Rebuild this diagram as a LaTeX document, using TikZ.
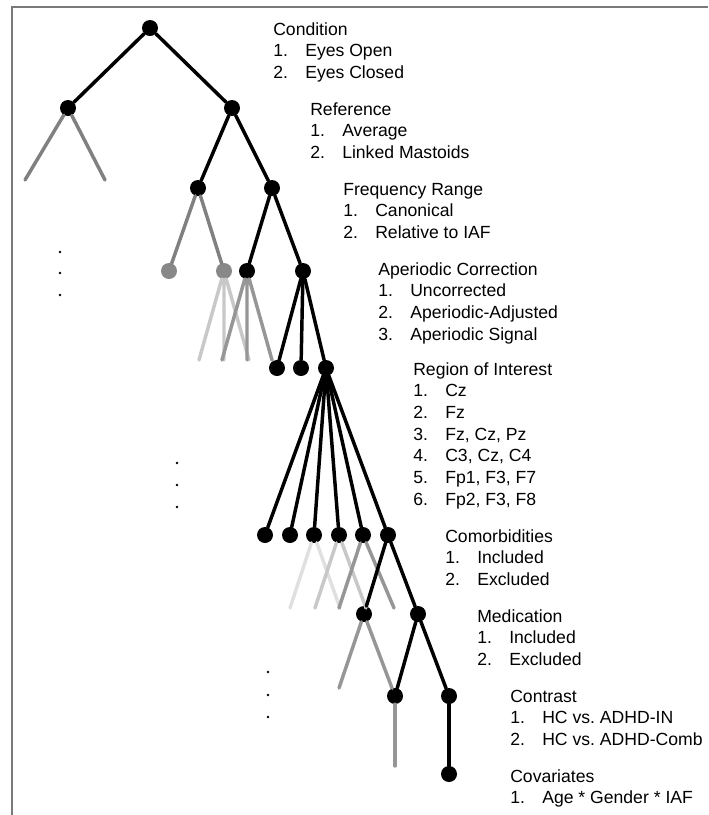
\documentclass[tikz,border=0pt]{standalone}
\usepackage{fontspec}
\setmainfont{Liberation Sans}
\usepackage{array}
\usepackage{xcolor}
\definecolor{framecol}{RGB}{122,122,122}
\definecolor{gmid} {RGB}{128,128,128}
\definecolor{gnode}{RGB}{136,136,136}
\definecolor{gdark}{RGB}{150,150,150}
\definecolor{glite}{RGB}{200,200,200}
\definecolor{gpale}{RGB}{224,224,224}
\newcommand{\choices}[2]{\begin{tabular}[t]{@{}p{24pt}@{}l@{}}
  \multicolumn{2}{@{}l@{}}{#1}\\#2\end{tabular}}
\frenchspacing

\begin{document}
\begin{tikzpicture}[x=0.75pt, y=-0.75pt,
  knot/.style={circle,fill=#1,draw=none,inner sep=0pt,minimum size=12pt},
  knot/.default=black,
  branch/.style={line width=2.6pt,draw=#1,line cap=round},
  branch/.default=black,
  lvltext/.style={anchor=base west,inner sep=0pt,
                  font=\fontsize{13.2}{16.3}\selectfont}]
  \useasboundingbox (0,0) rectangle (708,815);
  \draw[framecol,line width=1.5pt] (708,7) -- (12,7) -- (12,815);

  % tree nodes
  \node[knot] (cond) at (150,28) {};
  \node[knot] (refL) at (68,108) {};
  \node[knot] (refR) at (232,108) {};
  \node[knot] (frqL) at (198,188) {};
  \node[knot] (frqR) at (272,188) {};
  \node[knot=gnode] (apL1) at (169,271) {};
  \node[knot=gnode] (apL2) at (224,271) {};
  \node[knot] (apR1) at (247,271) {};
  \node[knot] (apR2) at (303,271) {};
  \node[knot] (roi1) at (277,368) {};
  \node[knot] (roi2) at (301,368) {};
  \node[knot] (roi3) at (326,368) {};
  \node[knot] (com1) at (265,535) {};
  \node[knot] (com2) at (290,535) {};
  \node[knot] (com3) at (314,535) {};
  \node[knot] (com4) at (339,535) {};
  \node[knot] (com5) at (363,535) {};
  \node[knot] (com6) at (388,535) {};
  \node[knot] (med1) at (364,614) {};
  \node[knot] (med2) at (418,614) {};
  \node[knot] (con1) at (395,696) {};
  \node[knot] (con2) at (449,696) {};
  \node[knot] (cov1) at (449,774) {};

  % loose ends of the dropped branches
  \coordinate (refLa) at (25,180);
  \coordinate (refLb) at (105,180);
  \coordinate (apL2a) at (199,360);
  \coordinate (apL2b) at (224,360);
  \coordinate (apL2c) at (249,360);
  \coordinate (apR1a) at (222,360);
  \coordinate (apR1b) at (247,360);
  \coordinate (apR1c) at (272,360);
  \coordinate (com3a) at (290,608);
  \coordinate (com3b) at (340,608);
  \coordinate (com4a) at (315,608);
  \coordinate (com4b) at (366,608);
  \coordinate (com5a) at (339,608);
  \coordinate (com5b) at (394,608);
  \coordinate (med1a) at (339,688);
  \coordinate (con1a) at (395,766);

  % grey branches first
  \draw[branch=gmid] (refL) -- (refLa) (refL) -- (refLb);
  \draw[branch=gmid] (frqL) -- (apL1) (frqL) -- (apL2);
  \draw[branch=glite] (apL2) -- (apL2a) (apL2) -- (apL2b) (apL2) -- (apL2c);
  \draw[branch=gdark] (apR1) -- (apR1a) (apR1) -- (apR1b) (apR1) -- (apR1c);
  \draw[branch=gpale] (com3) -- (com3a) (com3) -- (com3b);
  \draw[branch=glite] (com4) -- (com4a) (com4) -- (com4b);
  \draw[branch=gdark] (com5) -- (com5a) (com5) -- (com5b);
  \draw[branch=gdark] (med1) -- (med1a) (med1) -- (con1);
  \draw[branch=gdark] (con1) -- (con1a);

  % black path through the tree
  \draw[branch] (cond) -- (refL);
  \draw[branch] (cond) -- (refR);
  \draw[branch] (refR) -- (frqL);
  \draw[branch] (refR) -- (frqR);
  \draw[branch] (frqR) -- (apR1);
  \draw[branch] (frqR) -- (apR2);
  \draw[branch] (apR2) -- (roi1);
  \draw[branch] (apR2) -- (roi2);
  \draw[branch] (apR2) -- (roi3);
  \draw[branch] (roi3) -- (com1);
  \draw[branch] (roi3) -- (com2);
  \draw[branch] (roi3) -- (com3);
  \draw[branch] (roi3) -- (com4);
  \draw[branch] (roi3) -- (com5);
  \draw[branch] (roi3) -- (com6);
  \draw[branch] (com6) -- (med1);
  \draw[branch] (com6) -- (med2);
  \draw[branch] (med2) -- (con1);
  \draw[branch] (med2) -- (con2);
  \draw[branch] (con2) -- (cov1);

  % ellipsis dots
  \fill (60,252) circle (1.3) (60,273) circle (1.3) (60,295) circle (1.3);
  \fill (177,463) circle (1.3) (177,485) circle (1.3) (177,507) circle (1.3);
  \fill (268,672) circle (1.3) (268,695) circle (1.3) (268,717) circle (1.3);

  % level labels
  \node[lvltext] (tCond) at (273,35)
    {\choices{Condition}{1.&Eyes Open\\2.&Eyes Closed}};
  \node[lvltext] (tRef) at (310,115)
    {\choices{Reference}{1.&Average\\2.&Linked Mastoids}};
  \node[lvltext] (tFrq) at (343,195)
    {\choices{Frequency Range}{1.&Canonical\\2.&Relative to IAF}};
  \node[lvltext] (tAper) at (378,275)
    {\choices{Aperiodic Correction}{1.&Uncorrected\\2.&Aperiodic-Adjusted\\
     3.&Aperiodic Signal}};
  \node[lvltext] (tRoi) at (413,375)
    {\choices{Region of Interest}{1.&Cz\\2.&Fz\\3.&Fz, Cz, Pz\\4.&C3, Cz, C4\\
     5.&Fp1, F3, F7\\6.&Fp2, F3, F8}};
  \node[lvltext] (tCom) at (445,542)
    {\choices{Comorbidities}{1.&Included\\2.&Excluded}};
  \node[lvltext] (tMed) at (477,622)
    {\choices{Medication}{1.&Included\\2.&Excluded}};
  \node[lvltext] (tCon) at (510,702)
    {\choices{Contrast}{1.&HC vs. ADHD-IN\\2.&HC vs. ADHD-Comb}};
  \node[lvltext] (tCov) at (510,782)
    {\choices{Covariates}{1.&Age * Gender * IAF}};
\end{tikzpicture}
\end{document}
